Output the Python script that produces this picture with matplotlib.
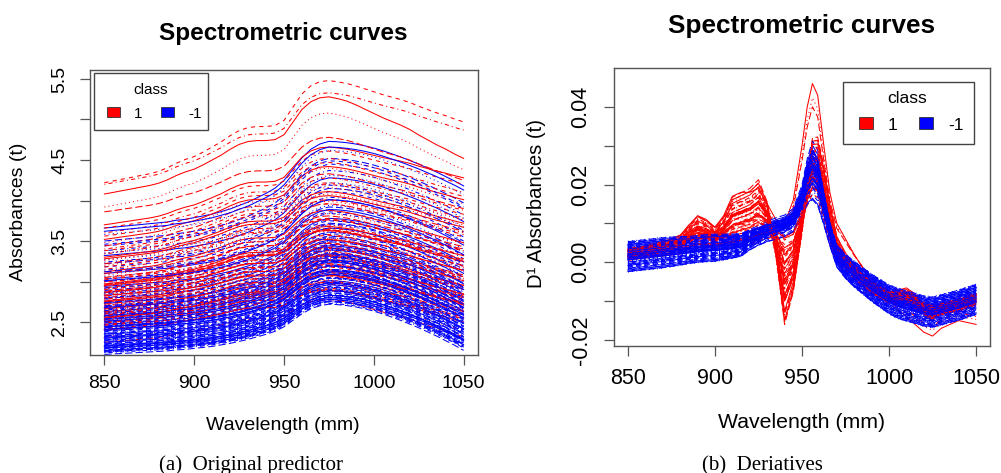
import numpy as np
import matplotlib.pyplot as plt
from matplotlib.patches import Rectangle

plt.rcParams['font.family'] = ['Liberation Sans', 'DejaVu Sans']

W, H = 1001, 473

# ---------------- panel (a): absorbance spectra ----------------
wavelength = [850, 855, 860, 865, 870, 875, 880, 885, 890, 895,
              900, 905, 910, 915, 920, 925, 930, 935, 940, 945,
              950, 955, 960, 965, 970, 975, 980, 985, 990, 995,
              1000, 1005, 1010, 1015, 1020, 1025, 1030, 1035, 1040, 1045, 1050]

# normalised curve shape, 850 -> 975 (rise) and 975 -> 1050 (fall)
blue_rise = [0.00, 0.01, 0.02, 0.03, 0.04, 0.05, 0.06, 0.07, 0.09, 0.10,
             0.12, 0.14, 0.16, 0.19, 0.22, 0.26, 0.30, 0.35, 0.40, 0.46,
             0.55, 0.68, 0.81, 0.91, 0.97, 1.00]
blue_fall = [1.00, 0.99, 0.97, 0.94, 0.90, 0.85, 0.79, 0.72, 0.65, 0.57,
             0.49, 0.40, 0.31, 0.21, 0.11, 0.00]
red_rise = [0.00, 0.017, 0.035, 0.052, 0.07, 0.087, 0.11, 0.145, 0.19, 0.227,
            0.256, 0.30, 0.35, 0.40, 0.46, 0.51, 0.54, 0.55, 0.55, 0.56,
            0.61, 0.74, 0.87, 0.95, 0.99, 1.00]
red_fall = [1.00, 0.97, 0.93, 0.87, 0.80, 0.73, 0.66, 0.60, 0.54, 0.47,
            0.38, 0.30, 0.22, 0.15, 0.07, 0.00]

# absorbance at 850, at the ~975 maximum and at 1050 for each curve
red_start = [4.22, 4.20, 4.08, 3.92, 3.86, 3.66, 3.60, 3.52, 3.48, 3.44,
             3.38, 3.34, 3.30, 3.26, 3.22, 3.18, 3.15, 3.12, 3.08, 3.05,
             3.02, 3.00, 2.97, 2.94, 2.92, 2.90, 2.88, 2.86, 2.84, 2.82,
             2.80, 2.78, 2.76, 2.74, 2.72, 2.70, 2.68, 2.66, 2.64, 2.62,
             2.60, 2.58, 2.55, 2.52, 2.50, 2.47, 2.44, 2.40, 2.32, 2.25,
             3.56, 3.40, 3.28, 3.20, 3.10, 3.04, 2.99, 2.95, 2.91, 2.87,
             2.83, 2.79, 2.75, 2.71, 2.67, 2.63, 2.59, 2.56, 2.53, 2.49,
             2.46, 2.42, 3.70, 3.35, 2.96]
red_peak = [5.48, 5.33, 5.28, 5.08, 4.78, 4.61, 4.52, 4.42, 4.40, 4.33,
            4.22, 4.20, 4.11, 4.08, 4.01, 3.96, 3.96, 3.88, 3.84, 3.76,
            3.78, 3.70, 3.68, 3.62, 3.64, 3.57, 3.58, 3.52, 3.53, 3.47,
            3.48, 3.41, 3.42, 3.36, 3.38, 3.31, 3.32, 3.26, 3.27, 3.20,
            3.22, 3.15, 3.13, 3.08, 3.07, 3.01, 2.97, 2.90, 2.82, 2.78,
            4.47, 4.28, 4.06, 3.99, 3.81, 3.77, 3.66, 3.63, 3.54, 3.52,
            3.44, 3.41, 3.33, 3.29, 3.22, 3.18, 3.11, 3.08, 3.02, 2.99,
            2.92, 2.89, 4.66, 4.16, 3.64]
red_end = [4.97, 4.87, 4.52, 4.38, 4.25, 4.20, 4.10, 4.01, 3.96, 3.90,
           3.83, 3.78, 3.72, 3.70, 3.62, 3.58, 3.55, 3.48, 3.47, 3.40,
           3.38, 3.33, 3.32, 3.26, 3.24, 3.20, 3.19, 3.14, 3.13, 3.08,
           3.06, 3.03, 3.01, 2.96, 2.95, 2.91, 2.90, 2.84, 2.84, 2.80,
           2.78, 2.74, 2.71, 2.66, 2.64, 2.59, 2.56, 2.50, 2.40, 2.32,
           4.05, 3.88, 3.67, 3.60, 3.43, 3.38, 3.28, 3.25, 3.17, 3.14,
           3.06, 3.04, 2.95, 2.93, 2.85, 2.82, 2.74, 2.73, 2.66, 2.63,
           2.56, 2.54, 4.28, 3.76, 3.27]

blue_start = [3.66, 3.58, 3.50, 3.44, 3.38, 3.32, 3.27, 3.22, 3.18, 3.14,
              3.10, 3.06, 3.03, 3.00, 2.97, 2.94, 2.91, 2.89, 2.87, 2.85,
              2.83, 2.81, 2.79, 2.77, 2.75, 2.73, 2.71, 2.69, 2.67, 2.65,
              2.63, 2.62, 2.61, 2.60, 2.59, 2.58, 2.57, 2.56, 2.55, 2.54,
              2.53, 2.52, 2.51, 2.50, 2.48, 2.47, 2.46, 2.45, 2.44, 2.42,
              2.41, 2.40, 2.39, 2.38, 2.36, 2.35, 2.34, 2.33, 2.32, 2.31,
              2.30, 2.29, 2.28, 2.27, 2.26, 2.25, 2.24, 2.23, 2.22, 2.21,
              2.20, 2.19, 2.18, 2.17, 2.16, 2.15, 2.14, 2.13, 2.12, 2.10,
              3.62, 3.46, 3.35, 3.24, 3.12, 3.01, 2.92, 2.86, 2.80, 2.74,
              2.68, 2.64, 2.60, 2.57, 2.54, 2.51, 2.49, 2.47, 2.45, 2.43,
              2.41, 2.39, 2.37, 2.35, 2.33, 2.31, 2.29, 2.27, 2.25, 2.23,
              2.21, 2.19, 2.17, 2.15, 2.13, 2.18, 2.58, 2.62, 2.66, 2.70,
              2.44, 2.36, 2.28, 2.20, 2.14]
blue_peak = [4.73, 4.62, 4.52, 4.45, 4.37, 4.28, 4.22, 4.15, 4.11, 4.04,
             4.01, 3.94, 3.92, 3.86, 3.84, 3.78, 3.76, 3.72, 3.71, 3.66,
             3.66, 3.61, 3.61, 3.56, 3.56, 3.51, 3.50, 3.46, 3.45, 3.40,
             3.39, 3.39, 3.35, 3.36, 3.33, 3.34, 3.31, 3.30, 3.29, 3.27,
             3.27, 3.24, 3.25, 3.22, 3.20, 3.19, 3.18, 3.15, 3.15, 3.11,
             3.11, 3.08, 3.08, 3.05, 3.04, 3.01, 3.01, 2.99, 2.98, 2.96,
             2.96, 2.93, 2.93, 2.91, 2.90, 2.89, 2.88, 2.86, 2.86, 2.84,
             2.83, 2.82, 2.81, 2.80, 2.78, 2.78, 2.76, 2.75, 2.73, 2.72,
             4.66, 4.49, 4.31, 4.19, 4.01, 3.89, 3.75, 3.70, 3.59, 3.54,
             3.44, 3.41, 3.34, 3.32, 3.26, 3.24, 3.20, 3.19, 3.15, 3.14,
             3.09, 3.09, 3.04, 3.04, 2.99, 2.98, 2.94, 2.93, 2.89, 2.88,
             2.83, 2.83, 2.78, 2.78, 2.75, 2.80, 3.31, 3.39, 3.42, 3.49,
             3.13, 3.05, 2.92, 2.84, 2.76]
blue_end = [4.18, 4.07, 3.97, 3.90, 3.82, 3.74, 3.67, 3.61, 3.55, 3.50,
            3.45, 3.40, 3.36, 3.32, 3.28, 3.24, 3.20, 3.18, 3.15, 3.12,
            3.10, 3.07, 3.05, 3.02, 3.00, 2.97, 2.94, 2.92, 2.89, 2.87,
            2.84, 2.83, 2.81, 2.80, 2.79, 2.77, 2.76, 2.75, 2.73, 2.72,
            2.71, 2.70, 2.68, 2.67, 2.64, 2.63, 2.62, 2.60, 2.59, 2.57,
            2.55, 2.54, 2.53, 2.51, 2.49, 2.48, 2.46, 2.45, 2.44, 2.42,
            2.41, 2.40, 2.38, 2.37, 2.36, 2.35, 2.33, 2.32, 2.31, 2.29,
            2.28, 2.27, 2.26, 2.24, 2.23, 2.22, 2.20, 2.19, 2.18, 2.15,
            4.13, 3.92, 3.78, 3.63, 3.48, 3.33, 3.22, 3.14, 3.06, 2.98,
            2.90, 2.85, 2.80, 2.76, 2.72, 2.68, 2.66, 2.63, 2.61, 2.58,
            2.55, 2.53, 2.50, 2.48, 2.45, 2.42, 2.40, 2.37, 2.35, 2.32,
            2.29, 2.27, 2.24, 2.22, 2.19, 2.27, 2.77, 2.83, 2.88, 2.93,
            2.59, 2.49, 2.39, 2.29, 2.21]

# ---------------- panel (b): first derivatives ----------------
d_wavelength = [850, 860, 870, 880, 885, 890, 895, 900, 905, 910,
                915, 920, 925, 930, 935, 940, 945, 950, 953, 956,
                959, 962, 966, 970, 975, 980, 990, 1000, 1005, 1010,
                1015, 1020, 1025, 1030, 1040, 1050]
blue_d_mean = [0.0015, 0.002, 0.0025, 0.003, 0.0032, 0.0035, 0.0037, 0.0038, 0.004, 0.0042,
               0.0045, 0.006, 0.007, 0.008, 0.0088, 0.0095, 0.011, 0.016, 0.021, 0.024,
               0.022, 0.016, 0.008, 0.002, -0.001, -0.003, -0.0065, -0.0095, -0.0105, -0.0112,
               -0.0118, -0.0125, -0.0128, -0.0122, -0.011, -0.0095]
blue_d_dev = [0, 0, 0, 0, 0, 0, 0, 0, 0, 0,
              0, 0.0003, 0.0005, 0.0008, 0.001, 0.001, 0.0012, 0.002, 0.0035, 0.005,
              0.0045, 0.003, 0.0015, 0.0005, 0, 0, 0, 0, 0, 0,
              0, 0, 0, 0, 0, 0]
blue_d_spread = [1.0, 1.0, 1.0, 0.95, 0.9, 0.9, 0.9, 0.9, 0.85, 0.8,
                 0.75, 0.65, 0.55, 0.5, 0.5, 0.5, 0.5, 0.6, 0.7, 0.8,
                 0.8, 0.7, 0.6, 0.7, 0.8, 0.85, 0.9, 0.95, 1.0, 1.0,
                 1.0, 1.0, 1.0, 1.0, 1.0, 1.0]
red_d_base = [0.002, 0.0025, 0.003, 0.0035, 0.004, 0.0045, 0.0045, 0.0045, 0.0048, 0.005,
              0.0055, 0.006, 0.007, 0.0075, 0.008, 0.006, 0.007, 0.012, 0.016, 0.019,
              0.018, 0.013, 0.006, 0.001, -0.001, -0.003, -0.0065, -0.009, -0.0095, -0.010,
              -0.011, -0.012, -0.0125, -0.012, -0.011, -0.0095]
red_d_dev = [0.0, 0.0005, 0.001, 0.002, 0.004, 0.0055, 0.0045, 0.003, 0.005, 0.009,
             0.0095, 0.010, 0.011, 0.006, -0.005, -0.018, -0.012, -0.003, 0.004, 0.010,
             0.011, 0.010, 0.007, 0.004, 0.002, 0.001, 0.0, 0.0, 0.001, 0.002,
             0.0015, 0.0, -0.001, 0.0, 0.0, 0.0]
red_d_extreme = [0.003, 0.004, 0.005, 0.007, 0.009, 0.012, 0.011, 0.009, 0.012, 0.017,
                 0.018, 0.018, 0.019, 0.015, 0.011, 0.010, 0.016, 0.030, 0.040, 0.046,
                 0.043, 0.032, 0.018, 0.010, 0.006, 0.002, -0.005, -0.010, -0.012, -0.014,
                 -0.016, -0.018, -0.019, -0.017, -0.015, -0.016]
red_extreme_scale = [1.0, 0.92, 0.87]

blue_d_amp = [0.3, -0.5, 0.8, -0.1, 0.5, -0.8, 0.1, 0.6, -0.3, 0.9,
              -0.6, 0.2, -0.9, 0.4, 0.0, -0.4, 0.7, -0.2, 1.0, -0.7,
              0.35, -0.15, 0.55, -0.55, 0.15, 0.75, -0.35, 0.05, -0.85, 0.45,
              -0.25, 0.65, -0.65, 0.25, 0.85, -0.45, 0.1, -0.05, 0.6, -0.75,
              0.4, -0.3, 0.2, 0.9, -0.95, 0.5, -0.1, 0.3, -0.6, 0.7,
              0.0, -0.2, 0.45, -0.5, 0.8, -0.4, 0.15, 0.55, -0.7, 0.35,
              -0.15, 0.65, -0.8, 0.25, 0.05, -0.35, 0.95, -0.25, 0.4, -0.9,
              0.1, 0.75, -0.55, 0.3, -0.05, 0.5, -0.65, 0.2, 0.6, -0.45]
blue_d_off = [0.0007, -0.0016, 0.0027, -0.0004, 0.0015, -0.0032, 0.0011, 0.0022, -0.0012, 0.0035,
              -0.0024, 0.0003, -0.0038, 0.0018, -0.0007, 0.0012, -0.0020, 0.0030, -0.0001, 0.0023,
              -0.0028, 0.0008, -0.0009, 0.0039, -0.0018, 0.0000, 0.0019, -0.0035, 0.0005, -0.0014,
              0.0032, -0.0005, 0.0014, -0.0026, 0.0009, 0.0026, -0.0030, 0.0004, -0.0011, 0.0016,
              -0.0022, 0.0036, -0.0003, 0.0011, -0.0039, 0.0020, -0.0015, 0.0001, 0.0028, -0.0008,
              0.0024, -0.0019, 0.0007, -0.0027, 0.0015, -0.0004, 0.0034, -0.0023, 0.0012, -0.0012,
              0.0018, -0.0031, 0.0003, 0.0022, -0.0016, 0.0008, -0.0001, 0.0031, -0.0020, 0.0005,
              -0.0034, 0.0013, -0.0008, 0.0026, -0.0026, 0.0009, 0.0038, -0.0005, 0.0019, -0.0040]
red_d_amp = [0.9, 0.2, 1.1, 0.5, 0.7, 0.0, 1.2, 0.4, 0.8, 0.3,
             1.0, 0.6, 0.1, 0.95, 0.45, 0.75, 0.25, 1.15, 0.55, 0.85,
             0.35, 0.65, 0.05, 1.05, 0.5, 0.9, 0.15, 0.7, 0.4, 1.25,
             0.6, 0.3, 0.8, 0.2, 1.0, 0.45, 0.1, 0.85, 0.55, 0.75,
             0.95, 0.35, 0.65, 1.1, 0.25, 0.5, 0.8, 0.0, 0.6, 0.4]
red_d_off = [0.0005, -0.0010, 0.0012, -0.0003, 0.0008, -0.0014, 0.0002, 0.0010, -0.0007, 0.0015,
             -0.0012, 0.0004, -0.0005, 0.0009, -0.0015, 0.0006, 0.0013, -0.0002, 0.0011, -0.0008,
             0.0003, -0.0011, 0.0014, -0.0006, 0.0001, 0.0007, -0.0013, 0.0010, -0.0004, 0.0005,
             -0.0009, 0.0012, -0.0001, 0.0008, -0.0012, 0.0003, 0.0015, -0.0007, 0.0006, -0.0010,
             0.0011, -0.0003, 0.0009, -0.0014, 0.0004, 0.0013, -0.0006, 0.0002, -0.0011, 0.0007]

# R matplot line types 1..5
LTY = ['-', (0, (4, 4)), (0, (1, 3)), (0, (1, 3, 4, 3)), (0, (7, 3))]
LW = 0.75


def spectrum(start, peak, end, rise, fall):
    up = start + (peak - start) * np.array(rise)
    down = end + (peak - end) * np.array(fall)
    return np.concatenate([up, down[1:]])


def fx(x):
    return x / W


def fy(y):
    return 1 - y / H


def style_axes(ax, fs):
    for s in ax.spines.values():
        s.set_color('#555555')
        s.set_linewidth(1.0)
    ax.tick_params(direction='out', length=7.2, width=0.9, color='#555555',
                   labelsize=fs)


def box_legend(fig, frame, title_at, boxes, labels, fs):
    # frame / boxes given as (x0, y0, x1, y1) in pixels from the top-left
    x0, y0, x1, y1 = frame
    fig.add_artist(Rectangle((fx(x0), fy(y1)), fx(x1) - fx(x0), fy(y0) - fy(y1),
                             transform=fig.transFigure, facecolor='white',
                             edgecolor='#444444', lw=1.0, zorder=5))
    fig.text(fx(title_at[0]), fy(title_at[1]), 'class', ha='center', va='baseline',
             fontsize=fs, zorder=6)
    for (bx0, by0, bx1, by1), colour in zip(boxes, ['red', 'blue']):
        fig.add_artist(Rectangle((fx(bx0), fy(by1)), fx(bx1) - fx(bx0), fy(by0) - fy(by1),
                                 transform=fig.transFigure, facecolor=colour,
                                 edgecolor='#333333', lw=0.6, zorder=6))
    for (lx, ly), text in zip(labels, ['1', '-1']):
        fig.text(fx(lx), fy(ly), text, ha='center', va='baseline', fontsize=fs, zorder=6)


fig = plt.figure(figsize=(W / 100, H / 100), dpi=100)

# ---- (a)
ax1 = fig.add_axes([fx(90), fy(355), 388 / W, 285 / H])
red_curves = [spectrum(s, p, e, red_rise, red_fall)
              for s, p, e in zip(red_start, red_peak, red_end)]
blue_curves = [spectrum(s, p, e, blue_rise, blue_fall)
               for s, p, e in zip(blue_start, blue_peak, blue_end)]
k = 0
for i in range(max(len(red_curves), len(blue_curves))):
    if i < len(blue_curves):
        ax1.plot(wavelength, blue_curves[i], color='blue', lw=LW, ls=LTY[k % 5])
        k += 1
    if i < len(red_curves):
        ax1.plot(wavelength, red_curves[i], color='red', lw=LW, ls=LTY[k % 5])
        k += 1
ax1.set_xlim(842, 1058)
ax1.set_ylim(2.093, 5.611)
ax1.set_xticks([850, 900, 950, 1000, 1050])
ax1.set_yticks([2.5, 3.0, 3.5, 4.0, 4.5, 5.0, 5.5])
ax1.set_yticklabels(['2.5', '', '3.5', '', '4.5', '', '5.5'], rotation=90, va='center')
style_axes(ax1, 14)
ax1.tick_params(axis='x', pad=7.5)
ax1.tick_params(axis='y', pad=8.5)
box_legend(fig, (93.7, 73, 208, 129.7), (150.5, 94),
           [(107, 107, 120.3, 117.3), (161, 107, 173.7, 117.3)],
           [(137.8, 118), (194.8, 118)], 11)

fig.text(fx(283), fy(40), 'Spectrometric curves', ha='center', va='baseline',
         fontsize=17.5, fontweight='bold')
fig.text(fx(283), fy(430), 'Wavelength (mm)', ha='center', va='baseline', fontsize=14)
fig.text(fx(18.5), fy(212), 'Absorbances (t)', ha='center', va='center',
         rotation=90, fontsize=14)
fig.text(fx(251), fy(470), '(a)  Original predictor', ha='center', va='baseline',
         fontsize=15, family='Liberation Serif')

# ---- (b)
ax2 = fig.add_axes([fx(614), fy(346), 376 / W, 278 / H])
blue_d = [np.array(blue_d_mean) + a * np.array(blue_d_dev) + o * np.array(blue_d_spread)
          for a, o in zip(blue_d_amp, blue_d_off)]
red_d = [np.array(red_d_base) + a * np.array(red_d_dev) + o
         for a, o in zip(red_d_amp, red_d_off)]
red_d = [np.array(red_d_extreme) * s for s in red_extreme_scale] + red_d
k = 0
for i in range(max(len(red_d), len(blue_d))):
    if i < len(red_d):
        ax2.plot(d_wavelength, red_d[i], color='red', lw=LW, ls=LTY[k % 5])
        k += 1
    if i < len(blue_d):
        ax2.plot(d_wavelength, blue_d[i], color='blue', lw=LW, ls=LTY[k % 5])
        k += 1
ax2.set_xlim(842, 1058)
ax2.set_ylim(-0.02155, 0.0500)
ax2.set_xticks([850, 900, 950, 1000, 1050])
ax2.set_yticks([-0.02, -0.01, 0.0, 0.01, 0.02, 0.03, 0.04])
ax2.set_yticklabels(['-0.02', '', '0.00', '', '0.02', '', '0.04'], rotation=90, va='center')
style_axes(ax2, 15.5)
ax2.tick_params(axis='x', pad=8.5)
ax2.tick_params(axis='y', pad=9)
box_legend(fig, (843, 82, 974, 144.3), (907, 103.3),
           [(858.7, 117, 873, 129.3), (919, 117, 933, 129.3)],
           [(892.3, 130.3), (956, 130.3)], 12.6)

fig.text(fx(802), fy(33), 'Spectrometric curves', ha='center', va='baseline',
         fontsize=18.8, fontweight='bold')
fig.text(fx(802), fy(428), 'Wavelength (mm)', ha='center', va='baseline', fontsize=15.3)
fig.text(fx(536), fy(204), 'D\u00b9 Absorbances (t)', ha='center', va='center',
         rotation=90, fontsize=14.6)
fig.text(fx(762), fy(470), '(b)  Deriatives', ha='center', va='baseline',
         fontsize=15, family='Liberation Serif')

fig.savefig('out.png', dpi=100)
